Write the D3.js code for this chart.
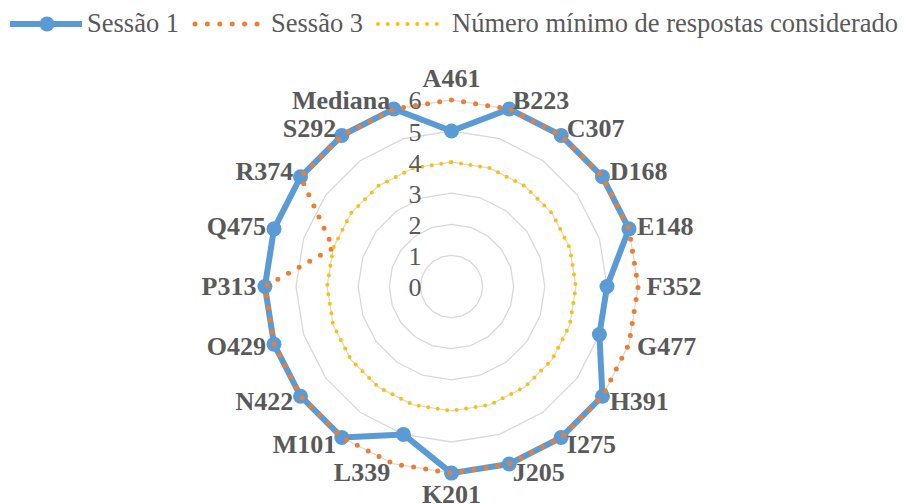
<!DOCTYPE html>
<html>
<head>
<meta charset="utf-8">
<script src="https://cdn.jsdelivr.net/npm/d3@7"></script>
<style>
    body { margin: 0; background: #fff; }
    text { font-family: "Liberation Serif", "Times New Roman", Times, serif; fill: #595959; }
    .grid { fill: none; stroke: #d9d9d9; stroke-width: 1.3px; }
    .cat { font-weight: bold; font-size: 26px; }
    .tick { font-size: 26px; }
    .leg { font-size: 26.5px; }
</style>
</head>
<body>
<script>

    var categories = ["A461", "B223", "C307", "D168", "E148", "F352", "G477", "H391", "I275", "J205",
        "K201", "L339", "M101", "N422", "O429", "P313", "Q475", "R374", "S292", "Mediana"];
    var sessao1 = [5, 6, 6, 6, 6, 5, 5, 6, 6, 6, 6, 5, 6, 6, 6, 6, 6, 6, 6, 6];
    var sessao3 = [6, 6, 6, 6, 6, 6, 6, 6, 6, 6, 6, 6, 6, 6, 6, 6, 4, 6, 6, 6];
    var minimo  = [4, 4, 4, 4, 4, 4, 4, 4, 4, 4, 4, 4, 4, 4, 4, 4, 4, 4, 4, 4];
    var ticks = [0, 1, 2, 3, 4, 5, 6];
    var seriesNames = ["Sessão 1", "Sessão 3", "Número mínimo de respostas considerado"];

    var width = 905, height = 504;
    var cx = 451.5, cy = 286.5;

    var svg = d3.select("body").append("svg")
        .attr("width", width)
        .attr("height", height);

    var n = categories.length;
    var r = d3.scaleLinear().domain([0, 6]).range([0, 186.6]);
    var angle = d3.scaleLinear().domain([0, n]).range([0, 2 * Math.PI]);

    var g = svg.append("g").attr("transform", "translate(" + cx + "," + cy + ")");

    var radial = d3.lineRadial()
        .angle(function (d, i) { return angle(i); })
        .radius(function (d) { return r(d); })
        .curve(d3.curveLinearClosed);

    // gridlines (polygons)
    g.selectAll("path.grid")
        .data(ticks.filter(function (t) { return t > 0; }))
        .enter().append("path")
        .attr("class", "grid")
        .attr("d", function (t) { return radial(d3.range(n).map(function () { return t; })); });

    // Sessão 1
    g.append("path")
        .attr("d", radial(sessao1))
        .attr("fill", "none")
        .attr("stroke", "#5b9bd5")
        .attr("stroke-width", 6)
        .attr("stroke-linejoin", "round");

    g.selectAll("circle.s1")
        .data(sessao1)
        .enter().append("circle")
        .attr("class", "s1")
        .attr("cx", function (d, i) { return r(d) * Math.sin(angle(i)); })
        .attr("cy", function (d, i) { return -r(d) * Math.cos(angle(i)); })
        .attr("r", 7.5)
        .attr("fill", "#5b9bd5");

    // Sessão 3
    g.append("path")
        .attr("d", radial(sessao3))
        .attr("fill", "none")
        .attr("stroke", "#ed7d31")
        .attr("stroke-width", 5)
        .attr("stroke-linecap", "round")
        .attr("stroke-dasharray", "0 12.2");

    // minimo
    g.append("path")
        .attr("d", radial(minimo))
        .attr("fill", "none")
        .attr("stroke", "#ffc000")
        .attr("stroke-width", 4)
        .attr("stroke-linecap", "round")
        .attr("stroke-dasharray", "0 9.6");

    // tick labels
    g.selectAll("text.tick")
        .data(ticks)
        .enter().append("text")
        .attr("class", "tick")
        .attr("x", -30)
        .attr("y", function (t) { return -r(t) + 1; })
        .attr("text-anchor", "end")
        .attr("dominant-baseline", "central")
        .text(function (t) { return t; });

    // category labels
    var R = r(6);
    g.selectAll("text.cat")
        .data(categories)
        .enter().append("text")
        .attr("class", "cat")
        .each(function (d, i) {
            var a = angle(i), s = Math.sin(a), c = Math.cos(a);
            var px = R * s, py = -R * c;
            var el = d3.select(this).attr("dominant-baseline", "central");
            if (Math.abs(s) < 0.05) {
                el.attr("x", px).attr("y", py - c * 21).attr("text-anchor", "middle");
            } else {
                el.attr("x", px + s * 7 + (s > 0 ? 1.5 : -1.5))
                    .attr("y", py - c * 9)
                    .attr("text-anchor", s > 0 ? "start" : "end");
            }
        })
        .text(function (d) { return d; });

    // legend
    var leg = svg.append("g");
    var ly = 24;

    leg.append("line").attr("x1", 10).attr("x2", 82).attr("y1", ly).attr("y2", ly)
        .attr("stroke", "#5b9bd5").attr("stroke-width", 6);
    leg.append("circle").attr("cx", 47).attr("cy", ly).attr("r", 7.5).attr("fill", "#5b9bd5");
    leg.append("text").attr("class", "leg").attr("x", 87).attr("y", 32).text(seriesNames[0]);

    leg.append("line").attr("x1", 195).attr("x2", 258).attr("y1", ly).attr("y2", ly)
        .attr("stroke", "#ed7d31").attr("stroke-width", 5)
        .attr("stroke-linecap", "round").attr("stroke-dasharray", "0 12.4");
    leg.append("text").attr("class", "leg").attr("x", 271).attr("y", 32).text(seriesNames[1]);

    leg.append("line").attr("x1", 378).attr("x2", 438).attr("y1", ly).attr("y2", ly)
        .attr("stroke", "#ffc000").attr("stroke-width", 4)
        .attr("stroke-linecap", "round").attr("stroke-dasharray", "0 9.8");
    leg.append("text").attr("class", "leg").attr("x", 452).attr("y", 32).text(seriesNames[2]);

</script>
</body>
</html>
